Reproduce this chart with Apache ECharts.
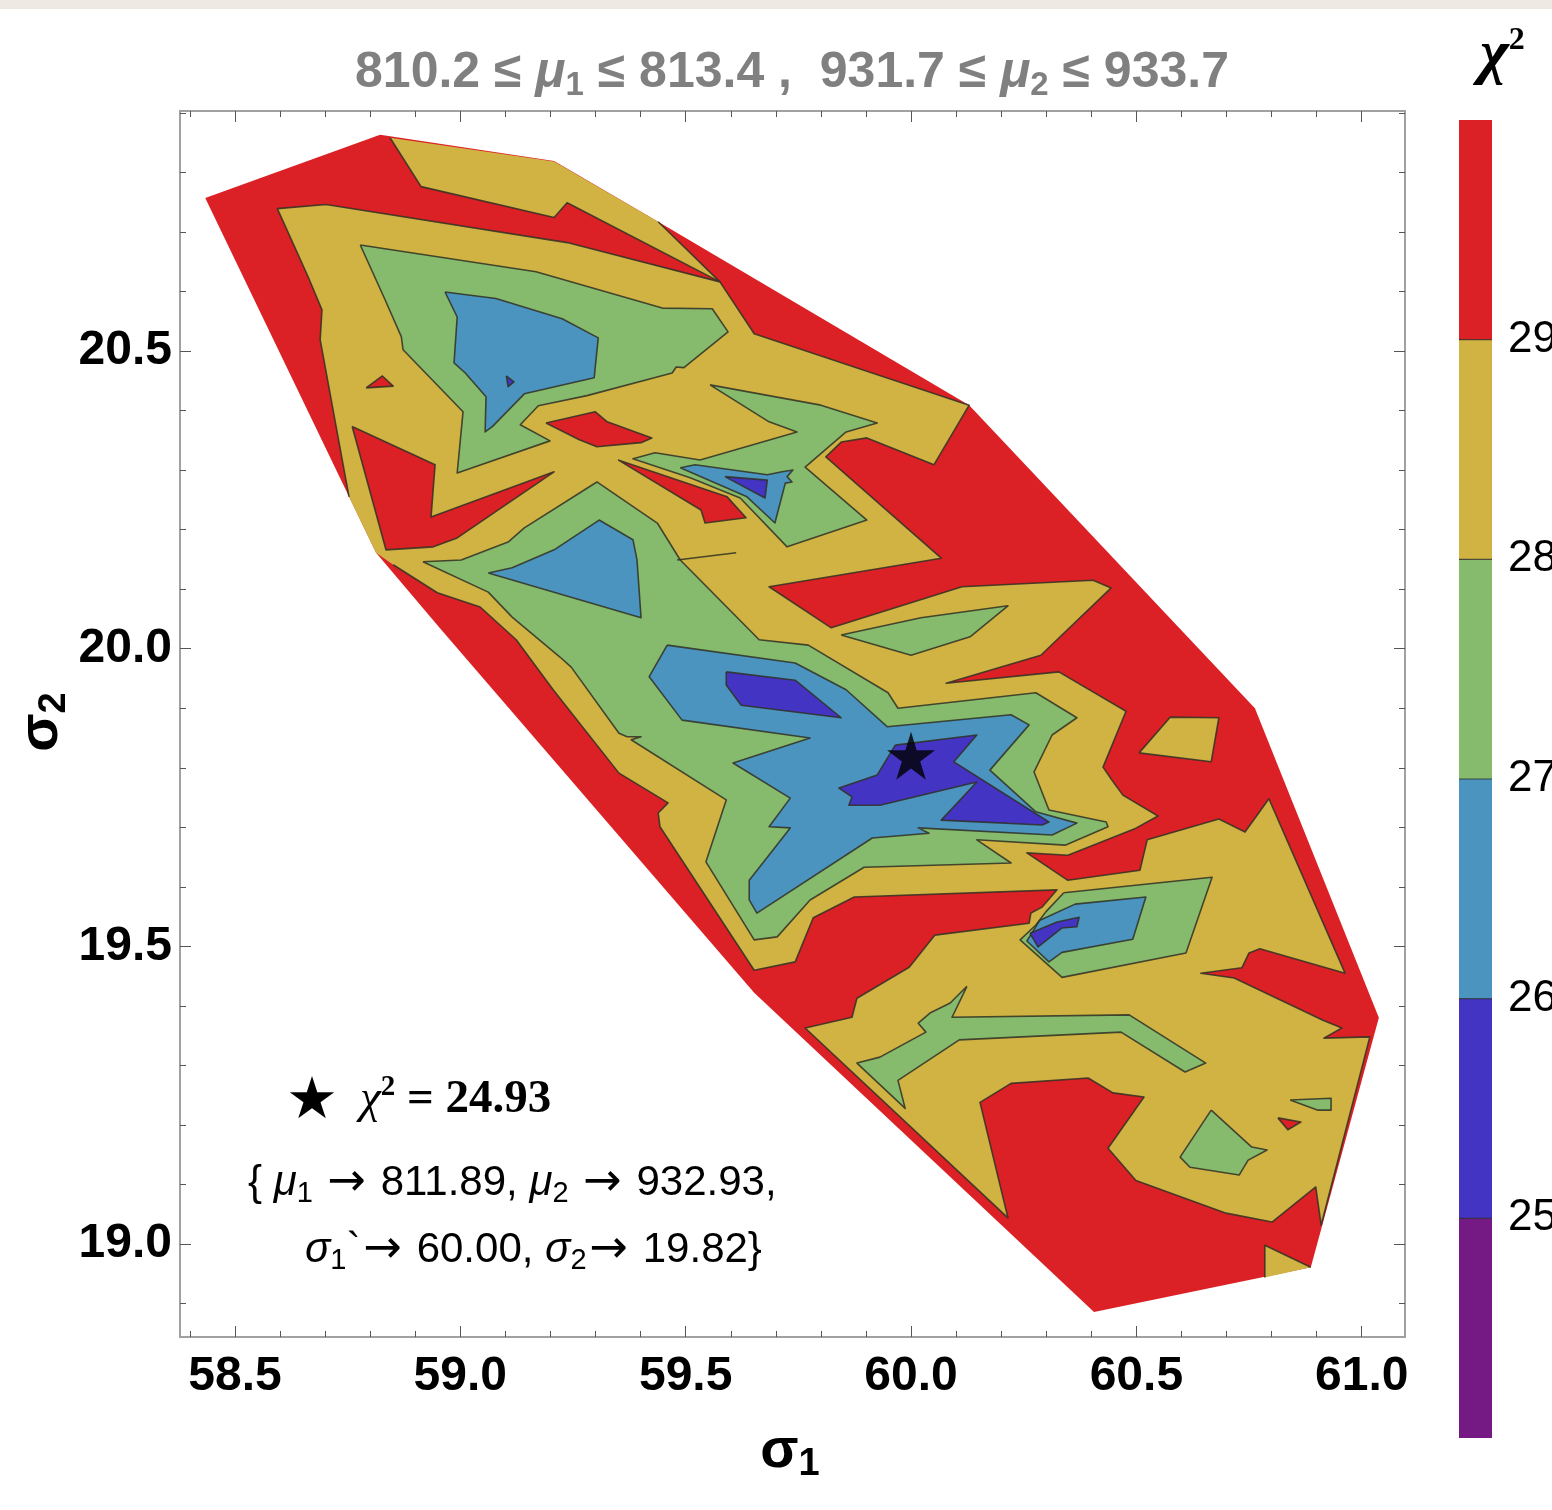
<!DOCTYPE html>
<html>
<head>
<meta charset="utf-8">
<script src="https://cdn.jsdelivr.net/npm/echarts@6.0.0/dist/echarts.min.js"></script>
<style>
  html, body { margin: 0; padding: 0; background: #ffffff; }
  #chart { width: 1552px; height: 1510px; }
</style>
</head>
<body>
<div id="chart"></div>
<script>
// ---- axes ----
const sigma1Range = [58.378, 61.096];
const sigma2Range = [18.844, 20.903];
const sigma1Major = [58.5, 59.0, 59.5, 60.0, 60.5, 61.0];
const sigma1Minor = [58.4, 58.6, 58.7, 58.8, 58.9, 59.1, 59.2, 59.3, 59.4, 59.6, 59.7, 59.8, 59.9,
                     60.1, 60.2, 60.3, 60.4, 60.6, 60.7, 60.8, 60.9];
const sigma2Major = [19.0, 19.5, 20.0, 20.5];
const sigma2Minor = [18.9, 19.1, 19.2, 19.3, 19.4, 19.6, 19.7, 19.8, 19.9, 20.1, 20.2, 20.3, 20.4,
                     20.6, 20.7, 20.8, 20.9];

// ---- chi^2 colour levels ----
const chi2Levels = [24, 25, 26, 27, 28, 29, 30];
const chi2Ticks = [25, 26, 27, 28, 29];

// ---- best fit point and the mu window of this slice ----
const bestFit = { chi2: 24.93, mu1: 811.89, mu2: 932.93, sigma1: 60.00, sigma2: 19.82 };
const muRange = { mu1: [810.2, 813.4], mu2: [931.7, 933.7] };

// ---- contour regions, vertices as [sigma1, sigma2] ----
// scanned area (chi^2 > 29 wherever nothing lower is drawn)
const fitHull = [[58.434,20.757],[58.822,20.863],[59.208,20.819],[59.439,20.717],[60.129,20.409],[60.763,19.900],
  [61.038,19.380],[60.887,18.961],[60.406,18.886],[59.652,19.422],[58.953,20.036],[58.813,20.161]];

// 28 < chi^2 < 29
const band28Top = [[59.439,20.717],[59.576,20.616],[59.237,20.749],[59.208,20.724],[58.913,20.776],[58.844,20.858],[59.208,20.818]];
const band28Main = [
  [58.753,20.255],[58.689,20.519],[58.693,20.569],[58.662,20.625],[58.594,20.739],[58.702,20.746],[59.237,20.682],[59.576,20.616],
  [59.652,20.529],[60.129,20.409],[60.051,20.309],[59.902,20.354],[59.845,20.347],[59.811,20.322],[60.067,20.152],[59.685,20.104],
  [59.823,20.035],[60.113,20.104],[60.404,20.115],[60.444,20.102],[60.288,19.989],[60.078,19.942],[60.328,19.961],[60.477,19.895],
  [60.426,19.801],[60.446,19.779],[60.470,19.754],[60.548,19.719],[60.495,19.697],[60.348,19.653],[60.257,19.657],[60.348,19.611],
  [60.508,19.628],[60.524,19.679],[60.683,19.714],[60.741,19.692],[60.794,19.748],[60.963,19.455],[60.774,19.496],[60.750,19.489],
  [60.734,19.464],[60.643,19.455],[60.717,19.447],[60.914,19.376],[60.956,19.363],[60.916,19.346],[61.018,19.348],[60.910,19.032],
  [60.898,19.096],[60.801,19.037],[60.699,19.052],[60.499,19.107],[60.437,19.161],[60.517,19.247],[60.448,19.254],[60.393,19.279],
  [60.222,19.270],[60.153,19.238],[60.215,19.044],[59.765,19.363],[59.869,19.381],[59.880,19.413],[59.996,19.465],[60.053,19.519],
  [60.262,19.539],[60.266,19.556],[60.291,19.566],[60.324,19.595],[59.874,19.583],[59.783,19.548],[59.743,19.474],[59.652,19.460],
  [59.443,19.701],[59.439,19.724],[59.461,19.741],[59.352,19.791],[59.206,19.931],[59.124,20.015],[59.044,20.070],[58.949,20.094],
  [58.851,20.141],[58.813,20.161]];
const band28IsleA = [[60.506,19.825],[60.575,19.885],[60.683,19.884],[60.666,19.810]];
const band28IsleB = [[60.785,18.944],[60.785,18.998],[60.887,18.961]];

// chi^2 > 29 pockets inside the 28-29 band
const band29IsleA = [[58.760,20.373],[58.944,20.309],[58.935,20.221],[59.208,20.297],[58.993,20.186],[58.940,20.171],[58.835,20.166]];
const band29IsleB = [[58.791,20.438],[58.827,20.458],[58.851,20.441]];
const band29IsleC = [[59.190,20.379],[59.299,20.398],[59.326,20.381],[59.425,20.354],[59.401,20.346],[59.303,20.339],[59.264,20.351]];
const band29IsleD = [[59.350,20.317],[59.592,20.255],[59.634,20.220],[59.543,20.211],[59.534,20.233]];
const band29IsleE = [[60.814,19.212],[60.865,19.205],[60.836,19.192]];

// 27 < chi^2 < 28
const band27A = [[58.778,20.678],[59.168,20.633],[59.448,20.572],[59.559,20.571],[59.594,20.532],[59.496,20.472],[59.479,20.473],
  [59.470,20.463],[59.281,20.425],[59.173,20.408],[59.133,20.376],[59.199,20.349],[58.993,20.295],[59.006,20.398],[58.873,20.502],
  [58.869,20.524],[58.833,20.586]];
const band27B = [[59.554,20.443],[59.800,20.409],[59.925,20.379],[59.856,20.364],[59.765,20.305],[59.902,20.216],[59.725,20.171],
  [59.621,20.253],[59.510,20.287],[59.383,20.319],[59.432,20.329],[59.532,20.317],[59.747,20.364],[59.685,20.381]];
const band27C = [[58.917,20.146],[59.002,20.149],[59.106,20.179],[59.142,20.203],[59.303,20.280],[59.437,20.211],[59.488,20.149],
  [59.663,20.015],[59.772,20.006],[59.949,19.926],[59.971,19.900],[60.277,19.926],[60.368,19.884],[60.313,19.855],[60.273,19.793],
  [60.306,19.729],[60.433,19.709],[60.437,19.701],[60.342,19.670],[60.146,19.679],[60.222,19.640],[59.896,19.633],[59.776,19.578],
  [59.703,19.516],[59.652,19.511],[59.545,19.642],[59.590,19.746],[59.379,19.847],[59.401,19.852],[59.370,19.852],[59.352,19.858],
  [59.246,19.969],[59.221,19.986],[59.115,20.053],[59.062,20.095]];
const band27D = [[59.845,20.023],[60.022,20.052],[60.215,20.072],[60.131,20.020],[60.000,19.989]];
const band27E = [[60.339,19.590],[60.668,19.616],[60.610,19.489],[60.335,19.448],[60.242,19.511],[60.277,19.536],[60.299,19.558]];
const band27F = [[60.124,19.433],[60.091,19.381],[60.484,19.385],[60.654,19.304],[60.608,19.289],[60.466,19.356],[60.107,19.343],
  [59.971,19.275],[59.987,19.228],[59.880,19.304],[59.931,19.314],[60.033,19.356],[60.016,19.371],[60.042,19.388],[60.087,19.405]];
const band27G = [[60.666,19.225],[60.756,19.163],[60.790,19.158],[60.748,19.141],[60.728,19.116],[60.619,19.129],[60.597,19.146]];
const band27H = [[60.841,19.242],[60.932,19.245],[60.932,19.225],[60.903,19.225]];

// 26 < chi^2 < 27
const band26A = [[58.966,20.599],[59.079,20.588],[59.226,20.554],[59.306,20.522],[59.297,20.455],[59.142,20.428],[59.071,20.373],
  [59.055,20.364],[59.057,20.423],[59.011,20.463],[58.986,20.480],[58.993,20.557]];
const band26B = [[59.488,20.304],[59.521,20.309],[59.681,20.292],[59.714,20.297],[59.738,20.300],[59.725,20.289],[59.736,20.280],
  [59.721,20.278],[59.698,20.211],[59.636,20.255]];
const band26C = [[59.062,20.127],[59.115,20.136],[59.208,20.166],[59.308,20.216],[59.383,20.183],[59.392,20.149],[59.401,20.052]];
const band26D = [[59.459,20.006],[59.743,19.976],[59.856,19.931],[59.947,19.869],[60.222,19.889],[60.262,19.872],[60.175,19.796],
  [60.277,19.726],[60.368,19.707],[60.313,19.687],[60.016,19.699],[60.040,19.690],[59.914,19.682],[59.658,19.556],[59.641,19.578],
  [59.641,19.611],[59.732,19.699],[59.685,19.701],[59.732,19.749],[59.605,19.808],[59.776,19.850],[59.492,19.880],[59.419,19.953]];
const band26E = [[60.286,19.544],[60.364,19.571],[60.521,19.583],[60.492,19.512],[60.335,19.490],[60.306,19.474],[60.257,19.509]];

// 25 < chi^2 < 26
const band25A = [[59.102,20.458],[59.119,20.448],[59.106,20.440]];
const band25B = [[59.587,20.289],[59.681,20.283],[59.676,20.253]];
const band25C = [[59.590,19.961],[59.743,19.947],[59.845,19.884],[59.623,19.905],[59.590,19.939]];
const band25D = [[59.965,19.838],[60.146,19.855],[60.095,19.810],[60.306,19.709],[60.291,19.704],[60.067,19.712],[60.146,19.776],
  [59.931,19.737],[59.862,19.737],[59.869,19.751],[59.840,19.766],[59.925,19.788]];
const band25E = [[60.264,19.522],[60.324,19.541],[60.373,19.549],[60.368,19.533],[60.335,19.531],[60.282,19.499]];

// degenerate chi^2 = 28 contour segment
const ridge28 = [[59.481,20.149],[59.612,20.161]];

// ---- drawing order (lower chi^2 on top); skip = trailing edges left unstroked (they lie on the hull) ----
const regions = [
  { band: 29, ring: fitHull, skip: null },
  { band: 28, ring: band28Top, skip: 2 },
  { band: 28, ring: band28Main, skip: 2 },
  { band: 28, ring: band28IsleA, skip: 0 },
  { band: 28, ring: band28IsleB, skip: 1 },
  ...[band29IsleA, band29IsleB, band29IsleC, band29IsleD, band29IsleE].map(r => ({ band: 29, ring: r, skip: 0 })),
  ...[band27A, band27B, band27C, band27D, band27E, band27F, band27G, band27H].map(r => ({ band: 27, ring: r, skip: 0 })),
  ...[band26A, band26B, band26C, band26D, band26E].map(r => ({ band: 26, ring: r, skip: 0 })),
  ...[band25A, band25B, band25C, band25D, band25E].map(r => ({ band: 25, ring: r, skip: 0 })),
  { band: null, ring: ridge28, skip: 1 }
];

const bandColor = { 24: '#751A85', 25: '#4434C3', 26: '#4B94BF', 27: '#86BB6D', 28: '#D1B343', 29: '#DB2125' };
const edgeColor = 'rgba(48,48,36,0.85)';
const SANS = '"Liberation Sans", Arial, Helvetica, sans-serif';
const SERIF = '"Liberation Serif", "Times New Roman", serif';
const ARROW = '"DejaVu Sans", sans-serif';

function renderRegion(params, api) {
  const r = regions[params.dataIndex];
  const pts = r.ring.map(p => api.coord(p));
  const kids = [];
  const base = params.dataIndex * 2;
  if (r.band !== null) {
    kids.push({ type: 'polygon', z2: base, shape: { points: pts }, style: { fill: bandColor[r.band] } });
  }
  if (r.skip !== null) {
    const line = r.skip === 0 ? pts.concat([pts[0]]) : pts.slice(0, pts.length - r.skip + 1);
    kids.push({ type: 'polyline', z2: base + 1, shape: { points: line },
      style: { stroke: edgeColor, lineWidth: 1.6, fill: null, lineJoin: 'round' } });
  }
  return { type: 'group', children: kids };
}

function renderBand(params, api) {
  const lo = api.value(1), hi = api.value(2);
  const a = api.coord([0, hi]);
  const b = api.coord([1, lo]);
  const kids = [{ type: 'rect', shape: { x: a[0], y: a[1], width: b[0] - a[0], height: b[1] - a[1] },
                  style: { fill: bandColor[lo] } }];
  if (lo > chi2Levels[0]) {
    kids.push({ type: 'line', shape: { x1: a[0], y1: b[1], x2: b[0], y2: b[1] },
                style: { stroke: 'rgba(40,40,40,0.75)', lineWidth: 1.2 } });
  }
  return { type: 'group', children: kids };
}

function frameAxis(dim, position, ticks, len, labelled) {
  const range = dim === 'x' ? sigma1Range : sigma2Range;
  return {
    gridIndex: 0, type: 'value', position: position, min: range[0], max: range[1],
    axisLine: { show: false, onZero: false },
    splitLine: { show: false },
    axisTick: { show: true, inside: true, length: len, customValues: ticks,
                lineStyle: { color: '#555', width: 1 } },
    axisLabel: labelled ? {
      show: true, customValues: ticks, formatter: v => v.toFixed(1),
      fontFamily: SANS, fontWeight: 'bold', fontSize: 48, color: '#000',
      margin: dim === 'x' ? 16 : 8
    } : { show: false }
  };
}

const titleText = `${muRange.mu1[0].toFixed(1)} ≤ {mu|μ}{sub|1} ≤ ${muRange.mu1[1].toFixed(1)} ,  ` +
                  `${muRange.mu2[0].toFixed(1)} ≤ {mu|μ}{sub|2} ≤ ${muRange.mu2[1].toFixed(1)}`;
const fitLine1 = `{chi|χ}{sup|2}{val| = ${bestFit.chi2.toFixed(2)}}`;
const fitLine2 = `{ {mu|μ}{sub|1} {ar|→} ${bestFit.mu1.toFixed(2)}, {mu|μ}{sub|2} {ar|→} ${bestFit.mu2.toFixed(2)},`;
const fitLine3 = `{sg|σ}{sub|1}\`{ar|→} ${bestFit.sigma1.toFixed(2)}, {sg|σ}{sub|2}{ar|→} ${bestFit.sigma2.toFixed(2)}}`;

const chart = echarts.init(document.getElementById('chart'), null, { renderer: 'canvas' });

const lineRich = {
  mu: { fontFamily: SANS, fontStyle: 'italic', fontSize: 42, lineHeight: 50, fill: '#000' },
  sg: { fontFamily: SANS, fontStyle: 'italic', fontSize: 42, lineHeight: 50, fill: '#000' },
  sub: { fontFamily: SANS, fontSize: 29, lineHeight: 32, verticalAlign: 'bottom', fill: '#000' },
  ar: { fontFamily: ARROW, fontSize: 46, lineHeight: 50, padding: [0, 3, 0, 3], fill: '#000' }
};

const option = {
  animation: false,
  backgroundColor: '#ffffff',
  grid: [
    { left: 180, top: 111, width: 1225, height: 1226, show: true, borderColor: '#a0a0a0', borderWidth: 2,
      backgroundColor: 'transparent', containLabel: false, outerBoundsMode: 'none' },
    { left: 1459, top: 120, width: 33, height: 1318, containLabel: false, outerBoundsMode: 'none' }
  ],
  xAxis: [
    frameAxis('x', 'bottom', sigma1Major, 11, true),
    frameAxis('x', 'bottom', sigma1Minor, 6, false),
    frameAxis('x', 'top', sigma1Major, 11, false),
    frameAxis('x', 'top', sigma1Minor, 6, false),
    { gridIndex: 1, type: 'value', min: 0, max: 1, show: false }
  ],
  yAxis: [
    frameAxis('y', 'left', sigma2Major, 11, true),
    frameAxis('y', 'left', sigma2Minor, 6, false),
    frameAxis('y', 'right', sigma2Major, 11, false),
    frameAxis('y', 'right', sigma2Minor, 6, false),
    {
      gridIndex: 1, type: 'value', position: 'right', min: chi2Levels[0], max: chi2Levels[chi2Levels.length - 1],
      axisLine: { show: false }, splitLine: { show: false },
      axisTick: { show: true, inside: false, length: 10, customValues: chi2Ticks, lineStyle: { color: '#9a9a9a', width: 1 } },
      axisLabel: { show: true, customValues: chi2Ticks, fontFamily: SANS, fontSize: 44, color: '#000', margin: 16 }
    }
  ],
  series: [
    {
      type: 'custom', coordinateSystem: 'cartesian2d', xAxisIndex: 0, yAxisIndex: 0,
      clip: false, silent: true,
      data: regions.map((r, i) => [r.ring[0][0], r.ring[0][1], i]),
      encode: { x: 0, y: 1 },
      renderItem: renderRegion
    },
    {
      type: 'scatter', xAxisIndex: 0, yAxisIndex: 0, z: 5, silent: true,
      data: [[bestFit.sigma1, bestFit.sigma2]],
      symbol: 'path://M50,0 L61.2,34.5 L97.6,34.5 L68.2,55.9 L79.4,90.5 L50,69.1 L20.6,90.5 L31.8,55.9 L2.4,34.5 L38.8,34.5 Z',
      symbolSize: 48,
      itemStyle: { color: '#000' }
    },
    {
      type: 'custom', coordinateSystem: 'cartesian2d', xAxisIndex: 4, yAxisIndex: 4,
      clip: false, silent: true,
      data: chi2Levels.slice(0, -1).map((lo, i) => [0, lo, chi2Levels[i + 1]]),
      encode: { x: 0, y: [1, 2] },
      renderItem: renderBand
    }
  ],
  graphic: [
    { type: 'rect', silent: true, shape: { x: 0, y: 0, width: 1552, height: 9 }, style: { fill: '#eeeae3' } },
    {
      type: 'text', silent: true, x: 792, y: 73,
      style: {
        text: titleText, align: 'center', verticalAlign: 'middle', fill: '#808080',
        fontFamily: SANS, fontWeight: 'bold', fontSize: 50, lineHeight: 58,
        rich: {
          mu: { fontFamily: SANS, fontWeight: 'bold', fontStyle: 'italic', fontSize: 50, lineHeight: 58, fill: '#808080' },
          sub: { fontFamily: SANS, fontWeight: 'bold', fontSize: 33, lineHeight: 44, verticalAlign: 'bottom', fill: '#808080' }
        }
      }
    },
    {
      type: 'text', silent: true, x: 790, y: 1452,
      style: {
        text: '{s|σ}{sub|1}', align: 'center', verticalAlign: 'middle', fill: '#000',
        fontFamily: SANS, fontWeight: 'bold', fontSize: 56, lineHeight: 64,
        rich: {
          s: { fontFamily: SANS, fontWeight: 'bold', fontSize: 56, lineHeight: 64, fill: '#000' },
          sub: { fontFamily: SANS, fontWeight: 'bold', fontSize: 38, lineHeight: 38, verticalAlign: 'bottom', fill: '#000' }
        }
      }
    },
    {
      type: 'text', silent: true, x: 42, y: 722, rotation: Math.PI / 2,
      style: {
        text: '{s|σ}{sub|2}', align: 'center', verticalAlign: 'middle', fill: '#000',
        fontFamily: SANS, fontWeight: 'bold', fontSize: 56, lineHeight: 64,
        rich: {
          s: { fontFamily: SANS, fontWeight: 'bold', fontSize: 56, lineHeight: 64, fill: '#000' },
          sub: { fontFamily: SANS, fontWeight: 'bold', fontSize: 38, lineHeight: 38, verticalAlign: 'bottom', fill: '#000' }
        }
      }
    },
    {
      type: 'text', silent: true, x: 1480, y: 56,
      style: {
        text: '{c|χ}{p|2}', align: 'left', verticalAlign: 'middle', fill: '#000',
        fontFamily: SERIF, fontSize: 58, lineHeight: 62,
        rich: {
          c: { fontFamily: SERIF, fontWeight: 'bold', fontStyle: 'italic', fontSize: 62, lineHeight: 62, fill: '#000' },
          p: { fontFamily: SERIF, fontWeight: 'bold', fontSize: 32, lineHeight: 30, verticalAlign: 'top', fill: '#000' }
        }
      }
    },
    {
      type: 'text', silent: true, x: 312, y: 1103,
      style: { text: '★', align: 'center', verticalAlign: 'middle', fill: '#000',
               fontFamily: '"DejaVu Sans", sans-serif', fontSize: 58 }
    },
    {
      type: 'text', silent: true, x: 360, y: 1100,
      style: {
        text: fitLine1, align: 'left', verticalAlign: 'middle', fill: '#000',
        fontFamily: SERIF, fontSize: 47, lineHeight: 54,
        rich: {
          chi: { fontFamily: SERIF, fontStyle: 'italic', fontSize: 47, lineHeight: 54, fill: '#000' },
          sup: { fontFamily: SERIF, fontWeight: 'bold', fontSize: 29, lineHeight: 28, verticalAlign: 'top', fill: '#000' },
          val: { fontFamily: SERIF, fontWeight: 'bold', fontSize: 47, lineHeight: 54, fill: '#000' }
        }
      }
    },
    {
      type: 'text', silent: true, x: 248, y: 1183,
      style: {
        text: fitLine2, align: 'left', verticalAlign: 'middle', fill: '#000',
        fontFamily: SANS, fontSize: 42, lineHeight: 50, rich: lineRich
      }
    },
    {
      type: 'text', silent: true, x: 305, y: 1250,
      style: {
        text: fitLine3, align: 'left', verticalAlign: 'middle', fill: '#000',
        fontFamily: SANS, fontSize: 42, lineHeight: 50, rich: lineRich
      }
    }
  ]
};

chart.setOption(option);
</script>
</body>
</html>
